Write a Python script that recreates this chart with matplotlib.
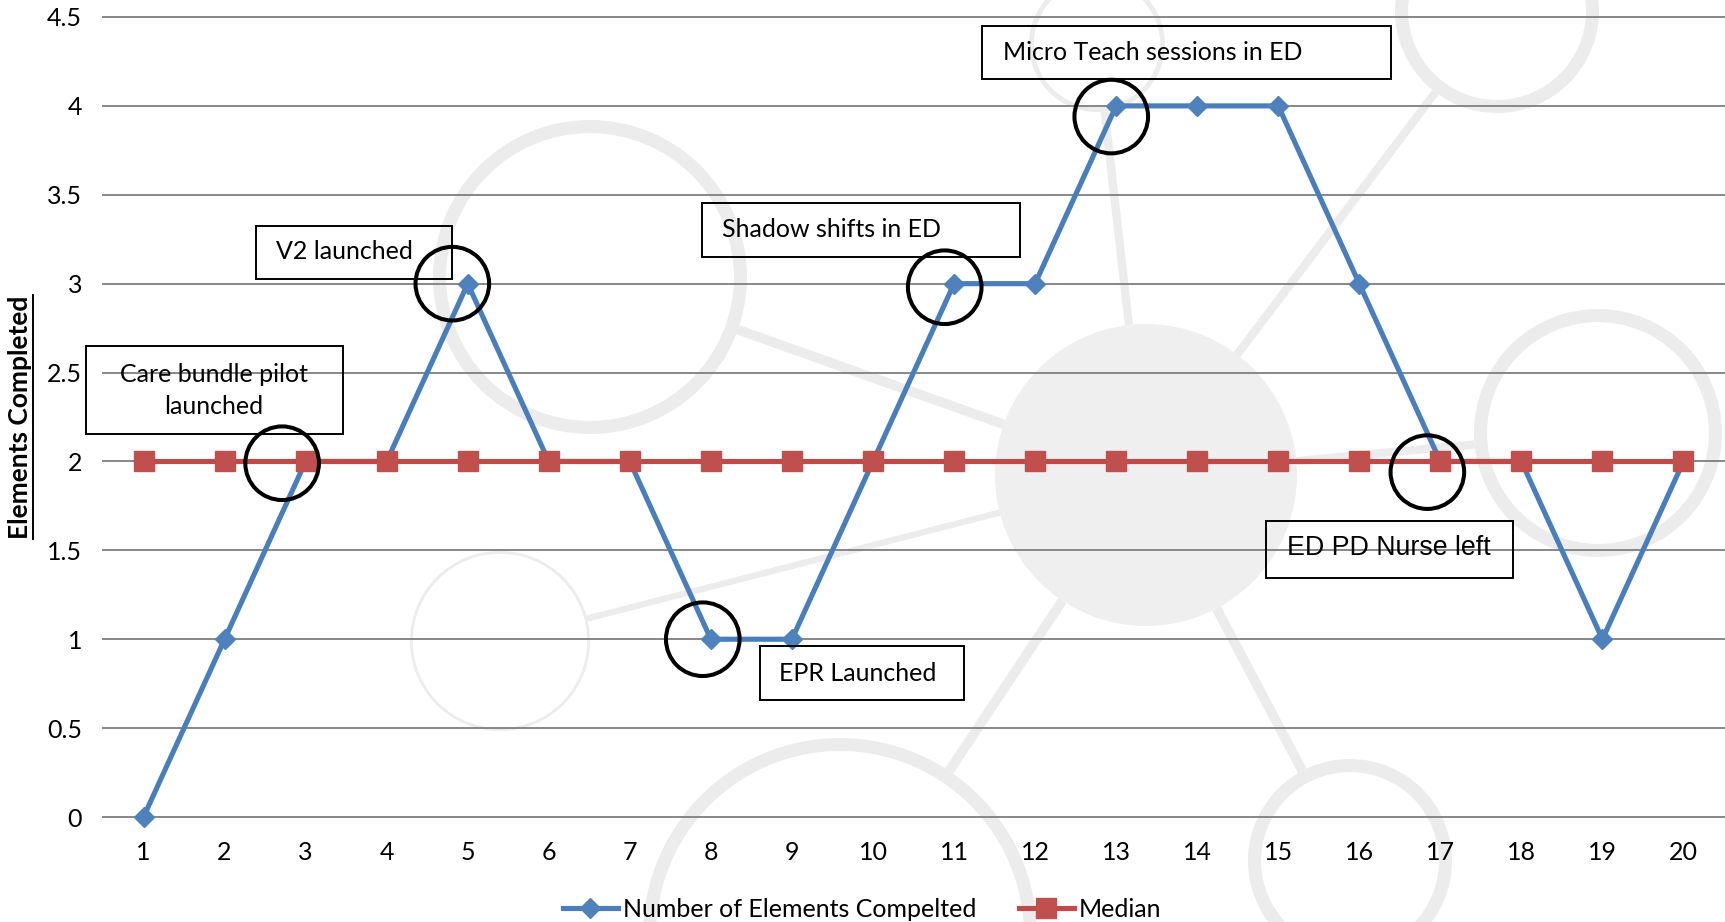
import matplotlib
matplotlib.use("Agg")
import matplotlib.pyplot as plt
from matplotlib.patches import Circle, Rectangle
from matplotlib.lines import Line2D
import numpy as np

# run chart values
weeks = list(range(1, 21))
elements_completed = [0, 1, 2, 2, 3, 2, 2, 1, 1, 2, 3, 3, 4, 4, 4, 3, 2, 2, 1, 2]
median_values = [2] * 20
y_ticks = [0, 0.5, 1, 1.5, 2, 2.5, 3, 3.5, 4, 4.5]
y_tick_labels = ["0", "0.5", "1", "1.5", "2", "2.5", "3", "3.5", "4", "4.5"]

# events circled on the chart
event_labels = ["Care bundle pilot\nlaunched", "V2 launched", "Shadow shifts in ED",
                "Micro Teach sessions in ED", "EPR Launched", "ED PD Nurse left"]
event_x = [2.71, 4.81, 7.90, 10.885, 12.94, 16.84]
event_y = [1.99, 3.0, 1.0, 2.98, 3.94, 1.94]

plt.rcParams['font.family'] = ['Lato', 'DejaVu Sans']

W, H = 1725, 922
fig = plt.figure(figsize=(W / 100, H / 100), dpi=100)


def draw_backdrop(fig):
    # faint network graphic behind the plot, in pixel units
    bg = fig.add_axes([0, 0, 1, 1], zorder=0)
    bg.set_xlim(0, W)
    bg.set_ylim(H, 0)
    bg.axis("off")
    grey = "#ececec"
    # centre x, centre y, outer radius, ring width (pt), filled
    nodes = {
        "a": (590, 277, 157, 9.4, False),
        "b": (1146, 475, 151, 0, True),
        "c": (500, 641, 90, 2.0, False),
        "d": (840, 935, 197, 9.4, False),
        "e": (1350, 861, 102, 9.4, False),
        "f": (1497, 11, 102, 9.4, False),
        "g": (1598, 433, 124, 9.4, False),
        "h": (1097, 44, 68, 3.5, False),
    }
    links = [("a", "b", 7), ("c", "b", 4.5), ("d", "b", 7), ("e", "b", 7),
             ("f", "b", 6), ("g", "b", 6), ("h", "b", 6)]
    for p, q, lw in links:
        x0, y0, r0 = nodes[p][:3]
        x1, y1, r1 = nodes[q][:3]
        d = np.hypot(x1 - x0, y1 - y0)
        ux, uy = (x1 - x0) / d, (y1 - y0) / d
        bg.plot([x0 + ux * r0, x1 - ux * r1], [y0 + uy * r0, y1 - uy * r1],
                color=grey, lw=lw, solid_capstyle="butt")
    for cx, cy, r, lw, filled in nodes.values():
        if filled:
            bg.add_patch(Circle((cx, cy), r, fc="#efefef", ec="none"))
        else:
            rr = r - lw * 1.389 / 2
            bg.add_patch(Circle((cx, cy), rr, fill=False, ec=grey, lw=lw))


draw_backdrop(fig)

ax = fig.add_axes([103 / W, 105 / H, 1621 / W, 800 / H], zorder=1)
ax.patch.set_alpha(0)
for s in ax.spines.values():
    s.set_visible(False)
ax.set_xlim(0.5, 20.5)
ax.set_ylim(0, 4.5)
ax.set_xticks(weeks, [str(w) for w in weeks])
ax.set_yticks(y_ticks, y_tick_labels)
ax.yaxis.grid(True, color="#878787", lw=1.4)
for gl in ax.get_ygridlines():
    gl.set_clip_on(False)
ax.set_axisbelow(True)
ax.tick_params(length=0, labelsize=18, pad=15)
ax.tick_params(axis="x", pad=17)

ax.plot(weeks, elements_completed, color="#4a7ebb", lw=3.7, marker="D", ms=10.5,
        mfc="#4f81bd", mec="#4f81bd", label="Number of Elements Compelted",
        zorder=3, clip_on=False)
ax.plot(weeks, median_values, color="#be4b48", lw=3.7, marker="s", ms=14.5,
        mfc="#c0504d", mec="#c0504d", label="Median", zorder=4, clip_on=False)

ax.scatter(event_x, event_y, s=53 ** 2, facecolors="none", edgecolors="black",
           linewidths=2.9, zorder=6)

# text boxes: x0, x1, y0, y1, text x, text y, centred
boxes = [
    (0.289, 3.46, 2.155, 2.647, 1.87, 2.40, True),
    (2.39, 4.81, 3.028, 3.327, 2.63, 3.18, False),
    (7.89, 11.82, 3.151, 3.454, 8.14, 3.303, False),
    (11.34, 16.39, 4.149, 4.447, 11.60, 4.298, False),
    (8.60, 11.12, 0.658, 0.962, 8.84, 0.809, False),
    (14.85, 17.90, 1.343, 1.667, 15.107, 1.512, False),
]
for label, (x0, x1, y0, y1, tx, ty, centred) in zip(event_labels, boxes):
    ax.add_patch(Rectangle((x0, y0), x1 - x0, y1 - y0, fill=False, ec="black",
                           lw=1.4, zorder=7, clip_on=False))
    nurse = label == "ED PD Nurse left"
    ax.text(tx, ty, label, ha="center" if centred else "left", va="center",
            fontsize=19.3 if nurse else 18,
            family=['Liberation Sans'] if nurse else ['Lato'],
            linespacing=1.45, zorder=8, clip_on=False)

ylab = fig.text(20 / W, 1 - 417 / H, "Elements Completed", rotation=90,
                ha="center", va="center", fontsize=19, fontweight="bold")
fig.canvas.draw()
bb = ylab.get_window_extent()
fig.add_artist(Line2D([33 / W, 33 / W], [bb.y0 / H, bb.y1 / H],
                      transform=fig.transFigure, color="black", lw=1.4))

fig.legend(loc="center", bbox_to_anchor=(862 / W, 1 - 909 / H), ncol=2,
           frameon=False, fontsize=18, handlelength=2.2, handletextpad=0.2,
           columnspacing=1.7, numpoints=1)

fig.savefig("out.png", dpi=100)
